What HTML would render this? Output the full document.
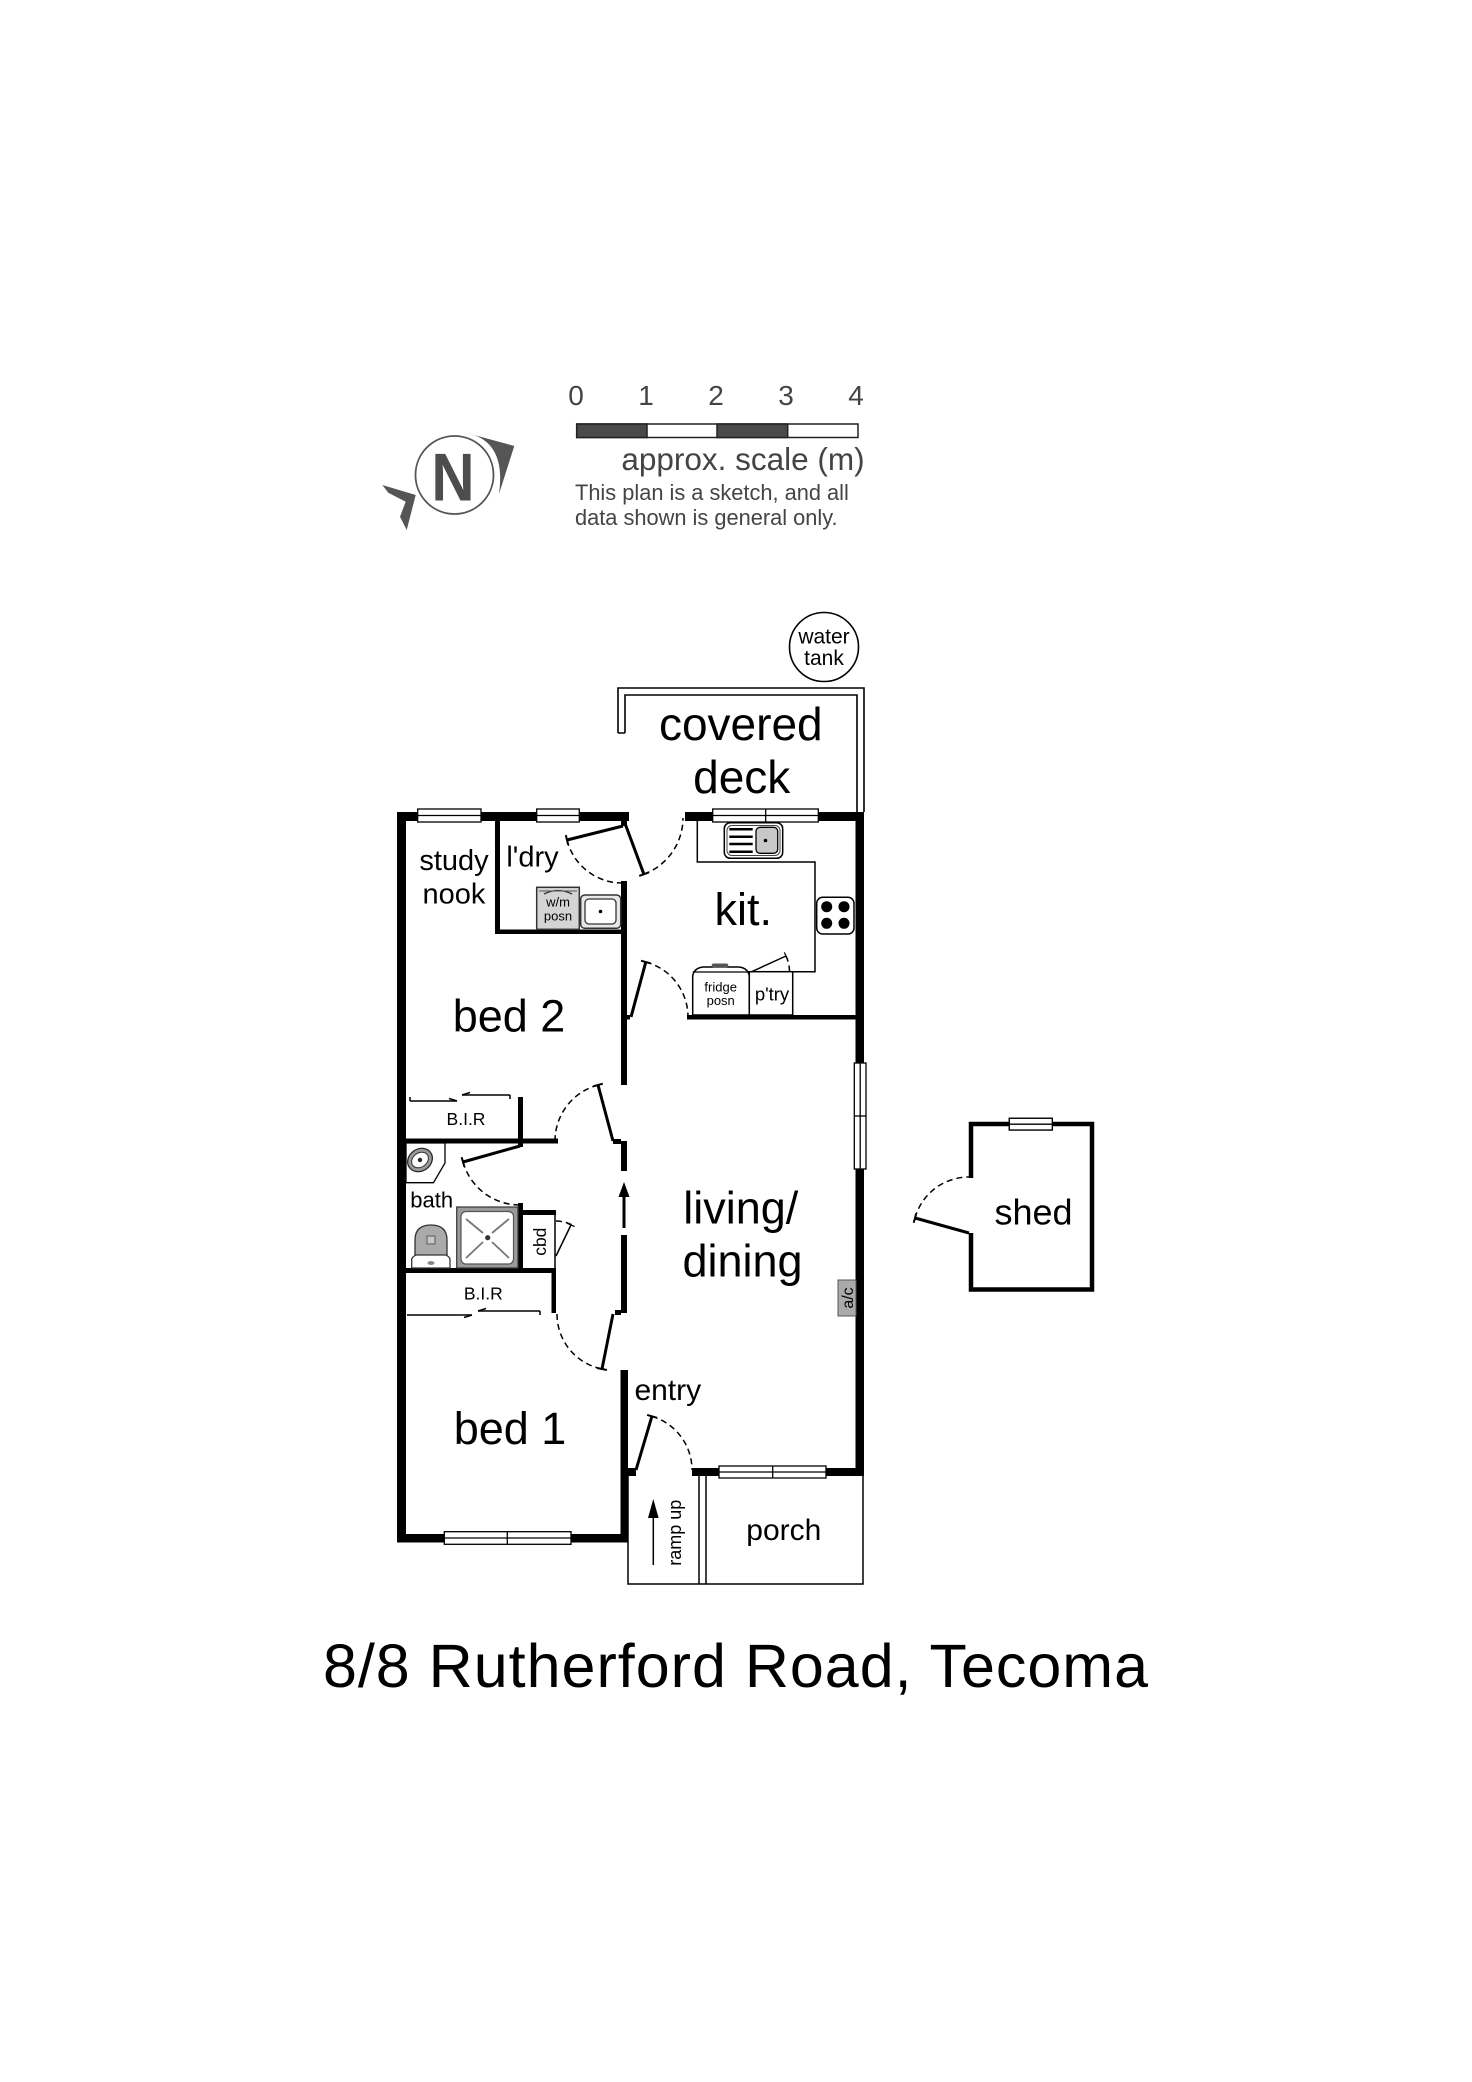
<!DOCTYPE html>
<html><head><meta charset="utf-8"><style>html,body{margin:0;padding:0;background:#fff;}svg{display:block}</style></head><body>
<svg width="1472" height="2082" viewBox="0 0 1472 2082" xmlns="http://www.w3.org/2000/svg" font-family="'Liberation Sans', Arial, sans-serif">
<rect x="0" y="0" width="1472" height="2082" fill="#fff"/>

<!-- North symbol -->
<circle cx="454.5" cy="475" r="39" fill="none" stroke="#555" stroke-width="1.8"/>
<text x="453" y="500.5" font-size="68" font-weight="bold" fill="#4d4d4d" text-anchor="middle" transform="translate(453,0) scale(0.88,1) translate(-453,0)">N</text>
<path d="M465.7,432.7 L514.3,446 L499,494 Q506.6,440.6 465.7,432.7 Z" fill="#555"/>
<polygon points="382.3,485 415.7,495 406.7,530 400,516.7 405.7,501.7 388.3,492.7" fill="#555"/>

<!-- Scale -->
<g fill="#444" font-size="28" text-anchor="middle">
<text x="576" y="405">0</text><text x="646" y="405">1</text><text x="716" y="405">2</text><text x="786" y="405">3</text><text x="856" y="405">4</text>
</g>
<rect x="576.7" y="424" width="281.3" height="13.5" fill="#fff" stroke="#222" stroke-width="1.5"/>
<rect x="576.7" y="424" width="70.3" height="13.5" fill="#4a4a4a" stroke="#222" stroke-width="1.5"/>
<rect x="717" y="424" width="70.7" height="13.5" fill="#4a4a4a" stroke="#222" stroke-width="1.5"/>
<text x="743" y="470" font-size="31.5" fill="#444" text-anchor="middle">approx. scale (m)</text>
<text x="575" y="500" font-size="21.8" fill="#444">This plan is a sketch, and all</text>
<text x="575" y="525" font-size="21.8" fill="#444">data shown is general only.</text>

<!-- Water tank -->
<circle cx="824" cy="647" r="34.5" fill="#fff" stroke="#000" stroke-width="1.6"/>
<text x="824" y="643.3" font-size="21" text-anchor="middle">water</text>
<text x="824" y="665" font-size="21" text-anchor="middle">tank</text>

<!-- Deck outline -->
<path d="M618,733 L618,688 L864,688 L864,812 M625,733 L625,695 L857,695 L857,812 M618,733 L625,733" fill="none" stroke="#000" stroke-width="1.6"/>

<!-- Walls -->
<g fill="#000">
<rect x="397" y="812" width="232" height="9"/>
<rect x="685" y="812" width="179" height="9"/>
<rect x="397" y="812" width="9" height="730"/>
<rect x="397" y="1534" width="231" height="8.5"/>
<rect x="855.5" y="812" width="8.5" height="664"/>
<rect x="692" y="1468" width="172" height="8"/>
<rect x="623" y="1468" width="13" height="8"/>
<rect x="621" y="812" width="6" height="14"/>
<rect x="621" y="881" width="6" height="204"/>
<rect x="621" y="1141" width="6" height="30"/>
<rect x="621" y="1235" width="6" height="78"/>
<rect x="620.5" y="1370" width="7.5" height="172"/>
<rect x="495" y="812" width="5" height="122"/>
<rect x="495" y="929.5" width="126" height="4.5"/>
<rect x="687" y="1015" width="169" height="4.5"/>
<rect x="625" y="1015" width="5" height="4.5"/>
<rect x="406" y="1138.5" width="152" height="5"/>
<rect x="518" y="1097" width="5" height="50"/>
<rect x="613" y="1139" width="8" height="5"/>
<rect x="518" y="1203" width="5" height="66"/>
<rect x="518" y="1210" width="38" height="5"/>
<rect x="406" y="1268" width="150" height="5"/>
<rect x="551.5" y="1272" width="4.5" height="41"/>
<rect x="615" y="1310" width="6" height="5"/>
<!-- arrow on wall -->
<polygon points="624,1182 618.5,1197 629.5,1197"/>
<rect x="622.5" y="1196" width="3" height="32"/>
</g>
<line x1="555" y1="1215" x2="555" y2="1268" stroke="#000" stroke-width="1.5"/>

<!-- Windows -->
<g fill="#fff" stroke="#000" stroke-width="1.3">
<rect x="417.7" y="809" width="63.3" height="13"/><line x1="417.7" y1="815.5" x2="481" y2="815.5"/>
<rect x="536.7" y="809" width="42.6" height="13"/><line x1="536.7" y1="815.5" x2="579.3" y2="815.5"/>
<rect x="712.7" y="809" width="105.6" height="13"/><line x1="712.7" y1="815.5" x2="818.3" y2="815.5"/><line x1="765.7" y1="809" x2="765.7" y2="822"/>
<rect x="854.3" y="1063" width="11.7" height="106"/><line x1="860.2" y1="1063" x2="860.2" y2="1169"/><line x1="854.3" y1="1116" x2="866" y2="1116"/>
<rect x="719" y="1466" width="107" height="12"/><line x1="719" y1="1472" x2="826" y2="1472"/><line x1="772.7" y1="1466" x2="772.7" y2="1478"/>
<rect x="444.3" y="1531.7" width="126.7" height="12.6"/><line x1="444.3" y1="1538" x2="571" y2="1538"/><line x1="507.3" y1="1531.7" x2="507.3" y2="1544.3"/>
<rect x="1009.3" y="1118.3" width="43" height="11.7"/><line x1="1009.3" y1="1124.2" x2="1052.3" y2="1124.2"/>
</g>

<!-- Kitchen bench -->
<path d="M697.3,821 L697.3,862 L815,862 L815,971.7 L749.3,971.7" fill="none" stroke="#000" stroke-width="1.5"/>
<!-- Kitchen sink -->
<rect x="724.3" y="822.7" width="58.4" height="35.6" rx="6" fill="#fff" stroke="#000" stroke-width="1.5"/>
<rect x="727" y="825.5" width="53" height="30" rx="5" fill="none" stroke="#444" stroke-width="1"/>
<g stroke="#000" stroke-width="2.5"><line x1="729.3" y1="829.3" x2="752.7" y2="829.3"/><line x1="729.3" y1="836.7" x2="752.7" y2="836.7"/><line x1="729.3" y1="844" x2="752.7" y2="844"/><line x1="729.3" y1="851.7" x2="752.7" y2="851.7"/></g>
<rect x="756" y="827.3" width="21.7" height="26" rx="4" fill="#c8c8c8" stroke="#000" stroke-width="1.3"/>
<circle cx="765.5" cy="840.5" r="1.8" fill="#000"/>
<!-- Cooktop -->
<rect x="816.7" y="897.3" width="37.3" height="36.7" rx="6" fill="#fff" stroke="#000" stroke-width="1.5"/>
<g fill="#000"><circle cx="826.7" cy="906.7" r="5.5"/><circle cx="844" cy="906.7" r="5.5"/><circle cx="826.7" cy="923.3" r="5.5"/><circle cx="844" cy="923.3" r="5.5"/></g>
<!-- Fridge -->
<path d="M692.7,1015 L692.7,976 Q694,968 703,967 L739,967 Q748,968 749.3,976 L749.3,1015 Z" fill="#fff" stroke="#000" stroke-width="1.5"/>
<line x1="692.7" y1="972" x2="749.3" y2="972" stroke="#000" stroke-width="1.2"/>
<rect x="711.7" y="963.5" width="16.6" height="4" rx="2" fill="#555"/>
<text x="720.7" y="991.7" font-size="13" text-anchor="middle">fridge</text>
<text x="720.7" y="1005" font-size="13" text-anchor="middle">posn</text>
<!-- Pantry -->
<rect x="749.3" y="971.7" width="43.4" height="43.3" fill="#fff" stroke="#000" stroke-width="1.5"/>
<text x="772" y="1000.7" font-size="18.5" text-anchor="middle">p'try</text>

<!-- Laundry appliances -->
<rect x="536.7" y="887.3" width="42.6" height="42" fill="#d4d4d4" stroke="#333" stroke-width="1.5"/>
<path d="M544,894 Q558,887 572,894" fill="none" stroke="#333" stroke-width="1.3"/>
<line x1="539" y1="891" x2="577" y2="891" stroke="#555" stroke-width="1"/>
<text x="558" y="906.7" font-size="13" text-anchor="middle">w/m</text>
<text x="558" y="920.7" font-size="13" text-anchor="middle">posn</text>
<rect x="580.7" y="895" width="40" height="33.3" rx="4" fill="#e8e8e8" stroke="#333" stroke-width="1.5"/>
<rect x="585" y="899" width="31" height="25" rx="4" fill="#fff" stroke="#333" stroke-width="1.3"/>
<circle cx="600.5" cy="911.5" r="1.8" fill="#000"/>

<!-- Basin -->
<polygon points="406,1143 445,1143 445,1163 433.5,1182.7 406,1182.7" fill="#fff" stroke="#000" stroke-width="1.3"/>
<ellipse cx="420" cy="1160" rx="13" ry="11" transform="rotate(-35 420 1160)" fill="#999" stroke="#222" stroke-width="1.2"/>
<ellipse cx="420" cy="1160" rx="9" ry="7" transform="rotate(-35 420 1160)" fill="#fff" stroke="#333" stroke-width="1"/>
<circle cx="420" cy="1160" r="2.2" fill="#222"/>
<!-- Toilet -->
<path d="M411.7,1268 L411.7,1259 Q414,1253 431,1253 Q448,1253 450,1259 L450,1268 Z" fill="#fff" stroke="#333" stroke-width="1.3"/>
<path d="M415,1255 L415,1240 Q415,1225 431,1225 Q447,1225 447,1240 L447,1255 Z" fill="#aaa" stroke="#333" stroke-width="1.3"/>
<rect x="427" y="1236" width="8" height="8" fill="#c8c8c8" stroke="#555" stroke-width="1"/>
<ellipse cx="431" cy="1263" rx="3.5" ry="2" fill="#888"/>
<!-- Shower -->
<rect x="456.7" y="1207" width="61.3" height="61" fill="#9a9a9a" stroke="#333" stroke-width="1.2"/>
<rect x="461" y="1211.5" width="52.5" height="52.5" rx="5" fill="#fff" stroke="#555" stroke-width="1.2"/>
<g stroke="#777" stroke-width="1.8"><line x1="466" y1="1219" x2="483" y2="1233"/><line x1="492" y1="1242" x2="509" y2="1258"/><line x1="509" y1="1219" x2="492" y2="1233"/><line x1="483" y1="1242" x2="466" y2="1258"/></g>
<circle cx="487.7" cy="1237.7" r="2.6" fill="#333"/>

<!-- a/c -->
<rect x="838" y="1280" width="18" height="36" fill="#aaa" stroke="#555" stroke-width="1"/>
<text transform="translate(853,1298) rotate(-90)" font-size="16" text-anchor="middle">a/c</text>

<!-- BIR sliding doors -->
<g stroke="#000" stroke-width="1.5" fill="none">
<line x1="410" y1="1101" x2="457" y2="1101"/><polyline points="449,1098.5 457,1101"/><line x1="410" y1="1097" x2="410" y2="1101"/>
<line x1="462" y1="1095" x2="510" y2="1095"/><polyline points="462,1095 470,1092.5"/><line x1="510" y1="1095" x2="510" y2="1099"/>
<line x1="407" y1="1315" x2="472" y2="1315"/><polyline points="464,1317.5 472,1315"/>
<line x1="478" y1="1311" x2="540" y2="1311"/><polyline points="478,1311 486,1308.5"/><line x1="540" y1="1311" x2="540" y2="1315"/>
</g>

<!-- Door leaves -->
<g stroke="#000" stroke-width="3" stroke-linecap="butt">
<line x1="623" y1="826" x2="567" y2="840"/>
<line x1="623" y1="818" x2="643.9" y2="874.2"/>
<line x1="631" y1="1017" x2="645.8" y2="962"/>
<line x1="613" y1="1141" x2="598" y2="1085"/>
<line x1="520" y1="1146" x2="463" y2="1162"/>
<line x1="556" y1="1256" x2="571" y2="1225" stroke-width="1.5"/>
<line x1="613" y1="1314" x2="602" y2="1369"/>
<line x1="636" y1="1470" x2="651.9" y2="1416.3"/>
<line x1="969" y1="1233" x2="915" y2="1218"/>
<line x1="751" y1="972" x2="786" y2="956" stroke-width="1.5"/>
</g>
<!-- Ticks -->
<g stroke="#000" stroke-width="2">
<line x1="568.2" y1="844.9" x2="565.8" y2="835.1"/>
<line x1="648.6" y1="872.5" x2="639.2" y2="875.9"/>
<line x1="650.6" y1="963.3" x2="641" y2="960.7"/>
<line x1="602.8" y1="1083.7" x2="593.2" y2="1086.3"/>
<line x1="464.4" y1="1166.8" x2="461.6" y2="1157.2"/>
<line x1="574.6" y1="1226.6" x2="567.4" y2="1223.4" stroke-width="1.2"/>
<line x1="606.9" y1="1370" x2="597.1" y2="1368"/>
<line x1="656.7" y1="1417.7" x2="647.1" y2="1414.9"/>
<line x1="916.3" y1="1213.2" x2="913.7" y2="1222.8"/>
<line x1="787.7" y1="959.6" x2="784.3" y2="952.4" stroke-width="1.2"/>
</g>
<!-- Door arcs -->
<g fill="none" stroke="#000" stroke-width="1.5" stroke-dasharray="6 4">
<path d="M567,840 A57,57 0 0,0 623,883"/>
<path d="M643.9,874.2 A60,60 0 0,0 683,818"/>
<path d="M645.8,962 A57,57 0 0,1 688,1017"/>
<path d="M598,1085 A58,58 0 0,0 555,1141"/>
<path d="M463,1162 A59,59 0 0,0 520,1205"/>
<path d="M556,1221 A35,35 0 0,1 572,1225"/>
<path d="M557,1314 A56,56 0 0,0 602,1369"/>
<path d="M651.9,1416.3 A56,56 0 0,1 692,1470"/>
<path d="M915,1218 A56,56 0 0,1 969,1177"/>
<path d="M786,956 A38.5,38.5 0 0,1 789.5,972"/>
</g>

<!-- Ramp / porch -->
<path d="M628,1476 L628,1584 L863,1584 L863,1476 M699,1476 L699,1584 M706,1476 L706,1584" fill="none" stroke="#000" stroke-width="1.5"/>
<line x1="653.3" y1="1565" x2="653.3" y2="1512" stroke="#000" stroke-width="1.5"/>
<polygon points="653.3,1499 648,1518 658.6,1518" fill="#000"/>
<text transform="translate(681,1532.7) rotate(-90)" font-size="18" text-anchor="middle">ramp up</text>

<!-- Shed -->
<path d="M971,1178 L971,1124 L1092,1124 L1092,1289.5 L971,1289.5 L971,1233" fill="none" stroke="#000" stroke-width="4.5"/>
<rect x="1009.3" y="1118.3" width="43" height="11.7" fill="#fff" stroke="#000" stroke-width="1.3"/>
<line x1="1009.3" y1="1124.2" x2="1052.3" y2="1124.2" stroke="#000" stroke-width="1.3"/>

<!-- Labels -->
<g fill="#000">
<text x="740.8" y="740" font-size="46" text-anchor="middle">covered</text>
<text x="741.7" y="793" font-size="46" text-anchor="middle">deck</text>
<text x="454" y="870" font-size="29" text-anchor="middle">study</text>
<text x="454" y="903.3" font-size="29" text-anchor="middle">nook</text>
<text x="532.5" y="866.7" font-size="29" text-anchor="middle">l'dry</text>
<text x="714.5" y="925" font-size="45">kit.</text>
<text x="509" y="1031.7" font-size="45" text-anchor="middle">bed 2</text>
<text x="466" y="1125" font-size="17.5" text-anchor="middle">B.I.R</text>
<text x="431.7" y="1207.7" font-size="22" text-anchor="middle">bath</text>
<text transform="translate(546,1241.7) rotate(-90)" font-size="17.5" text-anchor="middle">cbd</text>
<text x="483.3" y="1299.3" font-size="17.5" text-anchor="middle">B.I.R</text>
<text x="740.8" y="1223.3" font-size="45" text-anchor="middle">living/</text>
<text x="742.5" y="1276.7" font-size="45" text-anchor="middle">dining</text>
<text x="667.8" y="1400" font-size="30" text-anchor="middle">entry</text>
<text x="510" y="1444" font-size="45" text-anchor="middle">bed 1</text>
<text x="783.8" y="1540" font-size="30" text-anchor="middle">porch</text>
<text x="1033.5" y="1224.3" font-size="36" text-anchor="middle">shed</text>
<text x="736" y="1687" font-size="61" letter-spacing="1" text-anchor="middle">8/8 Rutherford Road, Tecoma</text>
</g>
</svg>
</body></html>
